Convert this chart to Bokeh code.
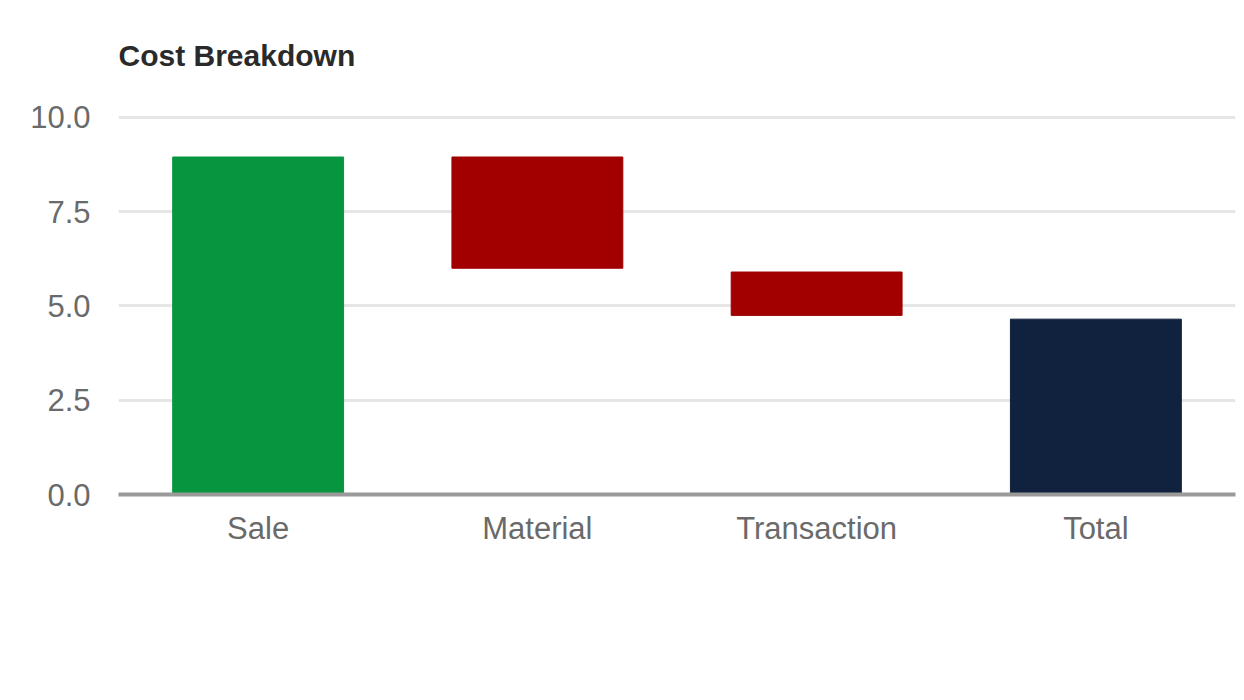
import pandas as pd
from bokeh.embed import file_html
from bokeh.models import ColumnDataSource, Range1d, FixedTicker, Label
from bokeh.plotting import figure
from bokeh.resources import INLINE

# 値は画像から読み取り
categories = ["Sale", "Material", "Transaction", "Total"]
bar_bottom = [0.0, 6.0, 4.75, 0.0]
bar_top = [8.95, 8.95, 5.9, 4.65]
bar_color = ["#07963f", "#a20000", "#a20000", "#11223f"]
y_ticks = [0.0, 2.5, 5.0, 7.5, 10.0]
title = "Cost Breakdown"

FONT = "Liberation Sans"

df = pd.DataFrame({"cat": categories, "bottom": bar_bottom, "top": bar_top, "color": bar_color})
src = ColumnDataSource(df)

# フレーム上部を広げてタイトルをフレーム内に置く
p = figure(x_range=categories, y_range=Range1d(0, 12.57), width=1236, height=668,
           output_backend="svg", toolbar_location=None, tools="",
           min_border_left=118, min_border_right=1, min_border_top=20, min_border_bottom=174)

p.add_layout(Label(x=0, y=11.64, x_units="screen", text=title,
                   text_font=FONT, text_font_size="30px", text_font_style="bold",
                   text_color="#2a2a2a", text_baseline="middle", text_align="left"))

p.vbar(x="cat", bottom="bottom", top="top", width=0.612, color="color", source=src)

p.outline_line_color = None
p.xgrid.grid_line_color = None
p.ygrid.grid_line_color = "#e6e6e6"
p.ygrid.grid_line_width = 3
p.ygrid.ticker = FixedTicker(ticks=y_ticks)

p.yaxis.ticker = FixedTicker(ticks=y_ticks)
p.yaxis.axis_line_color = None
p.yaxis.major_tick_line_color = None
p.yaxis.minor_tick_line_color = None
p.yaxis.major_label_standoff = 22
p.yaxis.major_label_overrides = {t: f"{t:.1f}" for t in y_ticks}

p.xaxis.axis_line_color = "#9a9a9a"
p.xaxis.axis_line_width = 4
p.xaxis.major_tick_line_color = None
p.xaxis.minor_tick_line_color = None
p.xaxis.major_label_standoff = 10

for ax in (p.xaxis, p.yaxis):
    ax.major_label_text_font = FONT
    ax.major_label_text_font_size = "31px"
    ax.major_label_text_color = "#6a6a6a"

open("out.html", "w").write(file_html(p, INLINE))
